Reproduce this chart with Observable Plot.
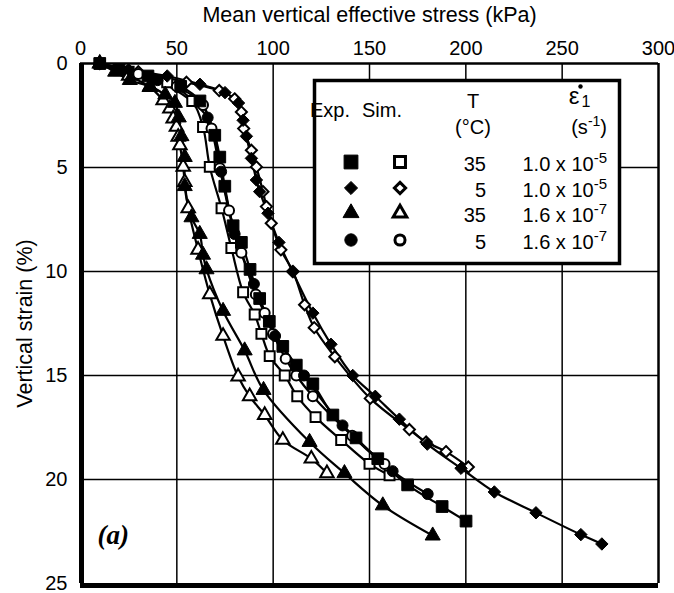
<!DOCTYPE html>
<html>
<head>
<meta charset="utf-8">
<script src="https://cdn.jsdelivr.net/npm/d3@7"></script>
<script src="https://cdn.jsdelivr.net/npm/@observablehq/plot@0.6"></script>
<style>
  html, body { margin: 0; padding: 0; background: white; }
  #chart { position: relative; width: 674px; height: 593px; }
</style>
</head>
<body>
<div id="chart"></div>
<script>
// ---- Data ----
const xTicks = [0, 50, 100, 150, 200, 250, 300];
const yTicks = [0, 5, 10, 15, 20, 25];

// Exp. 35 °C, 1.0e-5 (filled squares)
const expSquare = [[10,0],[20,0.3],[35,0.6],[52,1.1],[62,1.8],[69.7,3.45],[72.3,4.5],[74.9,5.9],[79.2,7.8],[83.5,8.6],[88,9.9],[93,11.3],[98,12.4],[105,13.6],[112,14.5],[120.6,15.4],[131,16.9],[143,18.0],[154.3,19.0],[169.8,20.26],[187.7,21.3],[200.1,22.0]];
// Sim. 35 °C, 1.0e-5 (open squares)
const simSquare = [[10,0],[25,0.4],[45,0.9],[58,1.8],[63.6,3.05],[67.1,4.97],[73.2,6.96],[78.3,8.87],[84.4,11.0],[90.4,12.07],[93.9,13.0],[98.2,14.07],[106,15.0],[112.5,16.0],[122,17.0],[135.3,18.1],[150,19.25],[160.4,19.8]];
// Exp. 5 °C, 1.0e-5 (filled diamonds)
const expDiamond = [[10,0],[25,0.3],[45,0.6],[62,1.0],[75,1.4],[82,1.9],[84.4,2.73],[86.1,3.5],[88.7,4.56],[91.3,5.6],[93,6.16],[97.3,7.2],[103,8.6],[110,10.0],[120.6,12.0],[130,13.5],[141.3,15.0],[153,16.0],[165.5,17.1],[180,18.3],[197.5,19.46],[214.8,20.6],[236.4,21.6],[259.7,22.65],[270.6,23.1]];
// Sim. 5 °C, 1.0e-5 (open diamonds)
const simDiamond = [[10,0],[30,0.4],[55,0.9],[72,1.3],[80,1.7],[83.5,2.33],[84.7,3.13],[88.7,4.17],[91.3,4.97],[94.7,6.16],[96.5,6.88],[99,7.68],[104,8.96],[110.3,10.0],[116.3,11.6],[121.3,12.7],[132,14.1],[150.4,16.1],[170.7,17.6],[179.4,18.2],[189.7,18.66],[201.3,19.4]];
// Exp. 35 °C, 1.6e-7 (filled triangles)
const expTriangle = [[10,0],[18,0.4],[25.6,0.8],[36,1.1],[44,1.5],[49,1.9],[51,2.6],[52.4,3.5],[54.1,4.5],[54.1,5.9],[57.6,7.4],[61.9,8.2],[63.6,9.2],[65.4,9.9],[74,11.9],[85.2,13.8],[95,15.7],[118.9,18.2],[137,19.7],[156.9,21.25],[182.8,22.7]];
// Sim. 35 °C, 1.6e-7 (open triangles)
const simTriangle = [[10,0],[25,0.6],[36,1.13],[42.9,1.77],[46.4,2.17],[48.1,2.65],[49.8,3.05],[50.7,3.53],[51.6,3.93],[53.3,4.97],[54.1,5.7],[55.9,6.96],[61,8.96],[67.1,11.1],[74,13.1],[81.8,15.05],[87.8,16.0],[95.6,16.9],[105,18.1],[119.8,19.0],[127.9,19.7]];
// Exp. 5 °C, 1.6e-7 (filled circles)
const expCircle = [[10,0],[40,0.8],[66,2.6],[73,5.2],[80,8.2],[90,10.6],[101,13.1],[116,15.0],[136,17.4],[162,19.6],[180.2,20.7]];
// Sim. 5 °C, 1.6e-7 (open circles)
const simCircle = [[10,0],[30,0.5],[50,1.1],[63.6,2.0],[68,3.13],[72.3,5.04],[77.1,7.07],[83.5,9.1],[91,11.1],[95.6,12.0],[99.9,13.0],[106.5,14.2],[112,15.0],[120.6,16.0],[141,17.9],[157.8,19.25]];

// Legend texts
const legendT = ["35", "5", "35", "5"];
const legendRate = ["1.0", "1.0", "1.6", "1.6"];
const legendExp = ["-5", "-5", "-7", "-7"];

const font = "'Liberation Sans', Arial, Helvetica, sans-serif";

const series = [
  {data: expSquare, symbol: "square", fill: "black", r: 6.6},
  {data: simSquare, symbol: "square", fill: "white", r: 5.6},
  {data: expDiamond, symbol: "diamond2", fill: "black", r: 5.6},
  {data: simDiamond, symbol: "diamond2", fill: "white", r: 5.0},
  {data: expTriangle, symbol: "triangle", fill: "black", r: 5.6},
  {data: simTriangle, symbol: "triangle", fill: "white", r: 5.0},
  {data: expCircle, symbol: "circle", fill: "black", r: 5.5},
  {data: simCircle, symbol: "circle", fill: "white", r: 5.0}
];

const lineMarks = series.map(s => Plot.line(s.data, {x: d => d[0], y: d => d[1], stroke: "black", strokeWidth: 2.2, curve: "catmull-rom"}));
const openDots = series.filter(s => s.fill === "white").map(s => Plot.dot(s.data, {x: d => d[0], y: d => d[1], symbol: () => s.symbol, r: s.r, fill: "white", stroke: "black", strokeWidth: 2}));
const filledDots = series.filter(s => s.fill === "black").map(s => Plot.dot(s.data, {x: d => d[0], y: d => d[1], symbol: () => s.symbol, r: s.r, fill: "black", stroke: "black", strokeWidth: 1}));

const chart = Plot.plot({
  width: 674,
  height: 593,
  marginLeft: 80,
  marginRight: 16,
  marginTop: 63,
  marginBottom: 10,
  style: {fontFamily: font, fontSize: "20px", background: "white", color: "black", overflow: "visible"},
  x: {domain: [0, 300]},
  y: {domain: [0, 25], reverse: true},
  symbol: {type: "identity"},
  marks: [
    Plot.gridX(xTicks.slice(1, -1), {stroke: "black", strokeOpacity: 1, strokeWidth: 1.5}),
    Plot.gridY(yTicks.slice(1, -1), {stroke: "black", strokeOpacity: 1, strokeWidth: 1.5}),
    Plot.axisX(xTicks, {anchor: "top", tickSize: 0, tickPadding: 9, fontSize: 20, label: null}),
    Plot.axisX({anchor: "top", ticks: [], tickSize: 0, fontSize: 21.5, label: "Mean vertical effective stress (kPa)", labelAnchor: "center", labelArrow: "none", labelOffset: 57}),
    Plot.axisY(yTicks, {anchor: "left", tickSize: 0, tickPadding: 13, fontSize: 20, label: null}),
    Plot.axisY({anchor: "left", ticks: [], tickSize: 0, fontSize: 21.5, label: "Vertical strain (%)", labelAnchor: "center", labelArrow: "none", labelOffset: 64}),
    Plot.ruleY([0], {stroke: "black", strokeWidth: 2.5}),
    Plot.ruleX([300], {stroke: "black", strokeWidth: 2.5}),
    Plot.ruleX([0], {stroke: "black", strokeWidth: 5, dx: 1}),
    Plot.ruleY([25], {stroke: "black", strokeWidth: 5, dy: 2}),
    ...lineMarks,
    ...openDots,
    ...filledDots,
    Plot.text(["(a)"], {frameAnchor: "bottom-left", dx: 17, dy: -48, lineAnchor: "middle", textAnchor: "start", fontFamily: "'Liberation Serif', 'Times New Roman', serif", fontStyle: "italic", fontWeight: "bold", fontSize: 27})
  ]
});

document.getElementById("chart").appendChild(chart);

// ---- Legend box drawn inside the plot ----
const svg = d3.select(chart);
const g = svg.append("g").attr("font-family", font).attr("font-size", 20).attr("fill", "black");
g.append("rect").attr("x", 314.5).attr("y", 80.5).attr("width", 305).attr("height", 183)
  .attr("fill", "white").attr("stroke", "black").attr("stroke-width", 3.5);

g.append("text").attr("x", 330).attr("y", 117).text("Exp.");
g.append("text").attr("x", 382).attr("y", 117).text("Sim.");
g.append("text").attr("x", 473).attr("y", 108).attr("text-anchor", "middle").text("T");
g.append("text").attr("x", 473).attr("y", 134).attr("text-anchor", "middle").text("(°C)");
g.append("text").attr("x", 574).attr("y", 104).attr("font-size", 24).text("ε");
g.append("circle").attr("cx", 580.5).attr("cy", 86.5).attr("r", 2.2).attr("fill", "black");
g.append("text").attr("x", 586).attr("y", 107).attr("font-size", 16).text("1");
const su = g.append("text").attr("x", 607).attr("y", 134).attr("text-anchor", "end");
su.append("tspan").text("(s");
su.append("tspan").attr("dy", -8).attr("font-size", 14).text("-1");
su.append("tspan").attr("dy", 8).text(")");

const rowBase = [171, 197, 222, 249];
const symTypes = [d3.symbolSquare, d3.symbolDiamond2, d3.symbolTriangle, d3.symbolCircle];
const symSizesF = [190, 110, 110, 120];
const symSizesO = [120, 80, 80, 80];
rowBase.forEach((b, i) => {
  const cy = b - 9;
  g.append("path").attr("transform", `translate(351,${cy})`)
    .attr("d", d3.symbol(symTypes[i], symSizesF[i])()).attr("fill", "black").attr("stroke", "black");
  g.append("path").attr("transform", `translate(400,${cy})`)
    .attr("d", d3.symbol(symTypes[i], symSizesO[i])()).attr("fill", "white").attr("stroke", "black").attr("stroke-width", 3);
  g.append("text").attr("x", 486).attr("y", b).attr("text-anchor", "end").text(legendT[i]);
  const t = g.append("text").attr("x", 607).attr("y", b).attr("text-anchor", "end");
  t.append("tspan").text(legendRate[i] + " x 10");
  t.append("tspan").attr("dy", -8).attr("font-size", 15).text(legendExp[i]);
});
</script>
</body>
</html>
